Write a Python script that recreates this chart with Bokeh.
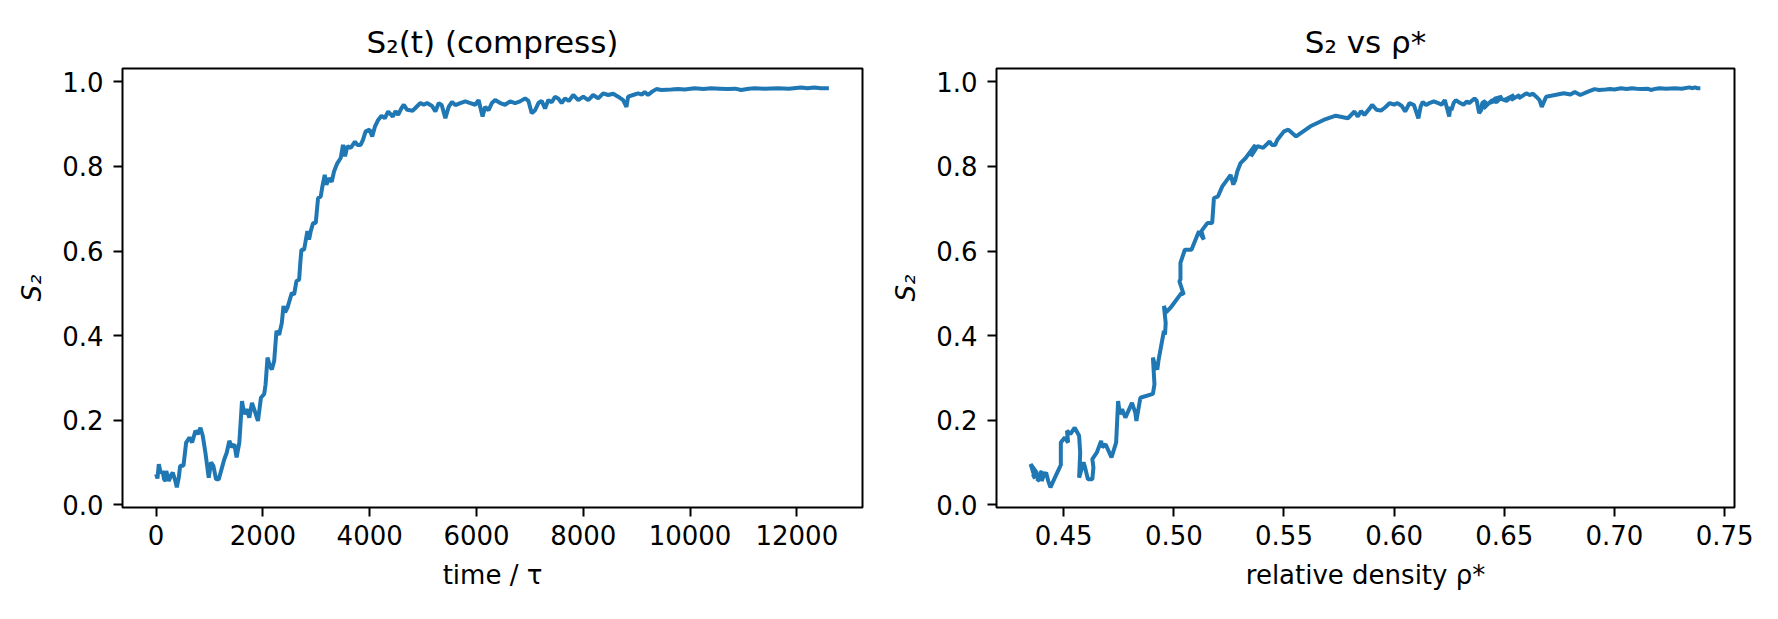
from bokeh.plotting import figure
from bokeh.layouts import row
from bokeh.models import FixedTicker, CustomJSTickFormatter, Range1d
from bokeh.embed import file_html
from bokeh.resources import INLINE

# ---- data ----
time = [0, 25, 50, 88, 120, 150, 176, 190, 237, 280, 311, 361, 387, 424, 450, 512, 562, 624, 674, 736,
        780, 830, 873, 923, 985, 1029, 1072, 1122, 1172, 1234, 1278, 1322, 1371, 1421, 1465, 1507, 1558,
        1608, 1651, 1695, 1745, 1795, 1857, 1907, 1963, 2024, 2050, 2086, 2130, 2167, 2211, 2254, 2304,
        2354, 2385, 2416, 2460, 2541, 2584, 2628, 2678, 2700, 2721, 2771, 2833, 2864, 2896, 2940, 2989,
        3033, 3083, 3114, 3158, 3189, 3239, 3289, 3332, 3395, 3457, 3500, 3538, 3581, 3644, 3724, 3768,
        3830, 3874, 3924, 3998, 4047, 4100, 4159, 4221, 4283, 4346, 4433, 4483, 4533, 4595, 4639, 4701,
        4807, 4869, 4950, 5012, 5074, 5168, 5230, 5293, 5350, 5417, 5479, 5542, 5604, 5697, 5790, 5884,
        5977, 6039, 6114, 6163, 6226, 6288, 6350, 6443, 6537, 6630, 6723, 6817, 6910, 6973, 7035, 7097,
        7160, 7220, 7284, 7346, 7410, 7471, 7530, 7595, 7657, 7730, 7813, 7906, 8000, 8093, 8186, 8280,
        8373, 8467, 8560, 8653, 8747, 8809, 8840, 8933, 9026, 9100, 9151, 9213, 9290, 9369, 9462, 9649,
        9773, 9900, 10085, 10250, 10396, 10550, 10707, 10850, 10956, 11100, 11205, 11400, 11641, 11850,
        12077, 12200, 12326, 12450, 12600]

s2 = [0.072, 0.062, 0.096, 0.074, 0.080, 0.060, 0.056, 0.080, 0.056, 0.070, 0.076, 0.056, 0.041, 0.064,
      0.092, 0.092, 0.147, 0.159, 0.147, 0.175, 0.167, 0.182, 0.163, 0.123, 0.064, 0.100, 0.092, 0.060,
      0.060, 0.088, 0.108, 0.123, 0.151, 0.136, 0.143, 0.112, 0.147, 0.245, 0.214, 0.226, 0.206, 0.241,
      0.218, 0.198, 0.253, 0.262, 0.285, 0.348, 0.328, 0.320, 0.340, 0.411, 0.402, 0.430, 0.470, 0.455,
      0.466, 0.501, 0.497, 0.529, 0.532, 0.572, 0.603, 0.603, 0.647, 0.627, 0.647, 0.666, 0.666, 0.725,
      0.729, 0.753, 0.780, 0.757, 0.772, 0.764, 0.788, 0.808, 0.820, 0.851, 0.824, 0.848, 0.844, 0.859,
      0.851, 0.851, 0.863, 0.883, 0.887, 0.871, 0.895, 0.910, 0.920, 0.914, 0.930, 0.918, 0.931, 0.922,
      0.938, 0.946, 0.934, 0.932, 0.940, 0.950, 0.946, 0.950, 0.943, 0.930, 0.950, 0.945, 0.914, 0.941,
      0.953, 0.945, 0.950, 0.954, 0.950, 0.946, 0.957, 0.918, 0.941, 0.933, 0.950, 0.957, 0.950, 0.946,
      0.954, 0.950, 0.954, 0.961, 0.955, 0.926, 0.933, 0.950, 0.955, 0.937, 0.957, 0.952, 0.965, 0.961,
      0.950, 0.961, 0.955, 0.969, 0.957, 0.965, 0.957, 0.969, 0.961, 0.973, 0.969, 0.972, 0.965, 0.957,
      0.941, 0.965, 0.969, 0.973, 0.970, 0.976, 0.969, 0.977, 0.983, 0.981, 0.982, 0.983, 0.982, 0.985,
      0.983, 0.985, 0.984, 0.983, 0.984, 0.981, 0.984, 0.985, 0.984, 0.985, 0.984, 0.987, 0.985, 0.987,
      0.985, 0.985]

rho = [0.436, 0.437, 0.435, 0.438, 0.437, 0.439, 0.438, 0.440, 0.440, 0.441, 0.442, 0.443, 0.444, 0.446,
       0.4485, 0.4487, 0.4487, 0.4505, 0.452, 0.4515, 0.453, 0.455, 0.457, 0.4575, 0.457, 0.459, 0.4595,
       0.461, 0.463, 0.4635, 0.463, 0.465, 0.467, 0.4675, 0.469, 0.4717, 0.4738, 0.4747, 0.4755, 0.4765,
       0.478, 0.481, 0.4825, 0.483, 0.4848, 0.4905, 0.4912, 0.4905, 0.4915, 0.4925, 0.493, 0.4955, 0.496,
       0.4963, 0.4955, 0.4965, 0.4985, 0.5035, 0.5045, 0.5025, 0.503, 0.503, 0.505, 0.508, 0.5114, 0.5136,
       0.5125, 0.5152, 0.5174, 0.5182, 0.520, 0.522, 0.5258, 0.527, 0.528, 0.5277, 0.5288, 0.5303, 0.5326,
       0.537, 0.535, 0.538, 0.5405, 0.5435, 0.5445, 0.546, 0.547, 0.550, 0.552, 0.5555, 0.562, 0.568,
       0.5735, 0.579, 0.582, 0.5835, 0.585, 0.5865, 0.589, 0.590, 0.592, 0.594, 0.596, 0.598, 0.600,
       0.6015, 0.6035, 0.605, 0.607, 0.609, 0.611, 0.612, 0.613, 0.6145, 0.616, 0.618, 0.620, 0.6215,
       0.623, 0.625, 0.6255, 0.626, 0.627, 0.628, 0.630, 0.6315, 0.633, 0.634, 0.635, 0.6365, 0.6375,
       0.6386, 0.6395, 0.640, 0.6415, 0.6405, 0.6445, 0.6465, 0.649, 0.646, 0.6435, 0.648, 0.651,
       0.6545, 0.650, 0.6545, 0.653, 0.657, 0.6565, 0.660, 0.6615, 0.663, 0.6645, 0.666, 0.667, 0.669,
       0.673, 0.677, 0.680, 0.682, 0.6845, 0.688, 0.691, 0.693, 0.696, 0.698, 0.700, 0.703, 0.7055, 0.708,
       0.710, 0.7125, 0.715, 0.7165, 0.719, 0.7205, 0.7235, 0.7275, 0.7305, 0.734, 0.7355, 0.7365, 0.7378,
       0.739]

time_ticks = [0, 2000, 4000, 6000, 8000, 10000, 12000]
rho_ticks = [0.45, 0.50, 0.55, 0.60, 0.65, 0.70, 0.75]
s2_ticks = [0.0, 0.2, 0.4, 0.6, 0.8, 1.0]

assert len(time) == len(s2) == len(rho)

FONT = "DejaVu Sans"
BLUE = "#1f77b4"


def style(p, xticks, xdigits, xlabel, title):
    p.title.text = title
    p.title.align = "center"
    p.title.text_font = FONT
    p.title.text_font_size = "31px"
    p.title.text_font_style = "normal"
    p.title.text_color = "black"
    p.title.standoff = 18
    p.outline_line_color = "black"
    p.outline_line_width = 2
    p.outline_line_alpha = 1.0
    p.xgrid.visible = False
    p.ygrid.visible = False
    p.background_fill_color = "white"
    p.border_fill_color = "white"
    p.xaxis.ticker = FixedTicker(ticks=xticks)
    p.yaxis.ticker = FixedTicker(ticks=s2_ticks)
    p.xaxis.formatter = CustomJSTickFormatter(code="return tick.toFixed(%d);" % xdigits)
    p.yaxis.formatter = CustomJSTickFormatter(code="return tick.toFixed(1);")
    for ax in (p.xaxis, p.yaxis):
        ax.axis_line_color = None
        ax.major_tick_line_color = "black"
        ax.major_tick_line_width = 2
        ax.major_tick_out = 9
        ax.major_tick_in = 0
        ax.minor_tick_line_color = None
        ax.major_label_text_font = FONT
        ax.major_label_text_font_size = "26px"
        ax.major_label_text_color = "black"
        ax.axis_label_text_font = FONT
        ax.axis_label_text_font_size = "26px"
        ax.axis_label_text_color = "black"
    p.xaxis.major_label_standoff = 8
    p.yaxis.major_label_standoff = 10
    p.xaxis.axis_label = xlabel
    p.xaxis.axis_label_text_font_style = "normal"
    p.xaxis.axis_label_standoff = 12
    p.yaxis.axis_label = "S₂"
    p.yaxis.axis_label_text_font_style = "italic"
    p.yaxis.axis_label_standoff = 12


p1 = figure(width=880, height=619, output_backend="svg", toolbar_location=None,
            x_range=Range1d(-630, 13230), y_range=Range1d(-0.0066, 1.0317),
            min_border_left=122, min_border_right=18, min_border_top=68, min_border_bottom=112)
style(p1, time_ticks, 0, "time / τ", "S₂(t) (compress)")
p1.line(time, s2, line_color=BLUE, line_width=4)

p2 = figure(width=898, height=619, output_backend="svg", toolbar_location=None,
            x_range=Range1d(0.4195, 0.7545), y_range=Range1d(-0.0066, 1.0317),
            min_border_left=116, min_border_right=44, min_border_top=68, min_border_bottom=112)
style(p2, rho_ticks, 2, "relative density ρ*", "S₂ vs ρ*")
p2.line(rho, s2, line_color=BLUE, line_width=4)

layout = row(p1, p2)
open("out.html", "w").write(file_html(layout, INLINE))
